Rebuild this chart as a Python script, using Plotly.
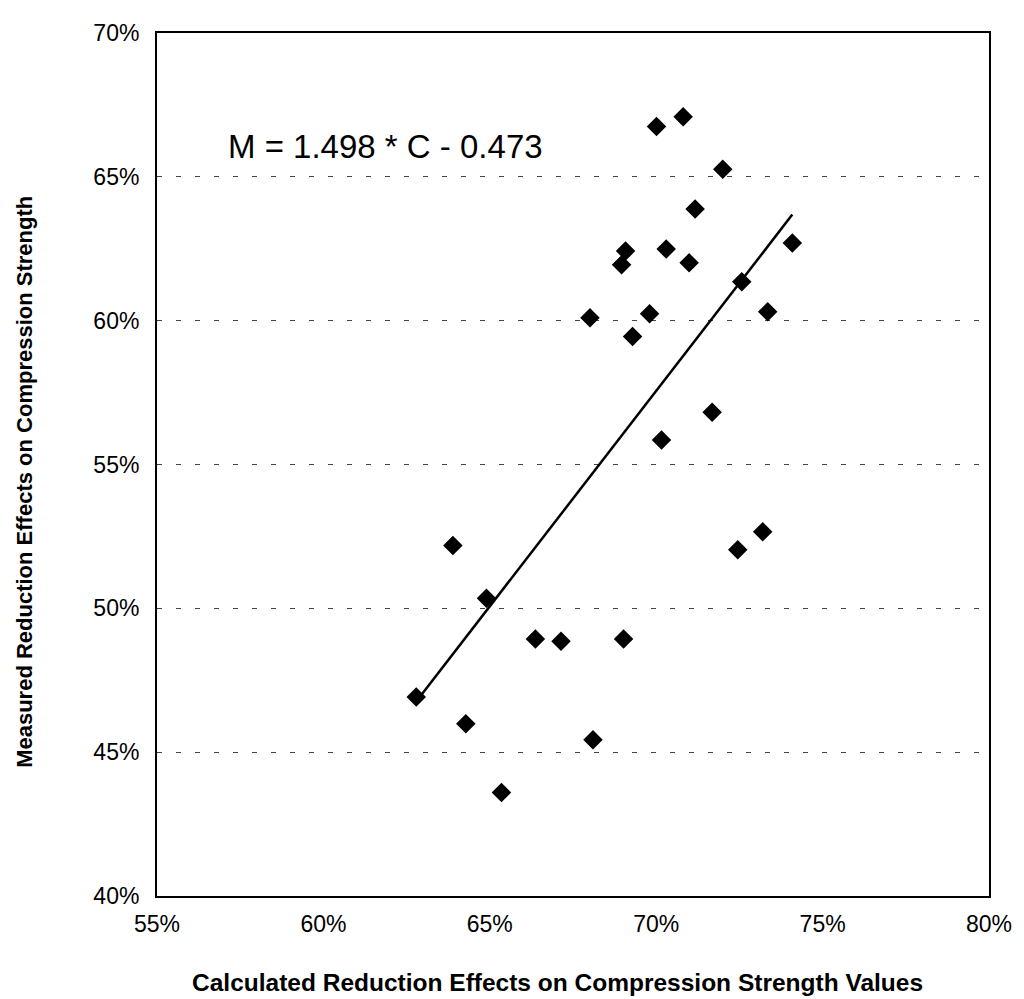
import plotly.graph_objects as go

# Calculated reduction effects (C) and measured reduction effects (M), as fractions
calculated = [0.6279, 0.6389, 0.6428, 0.6490, 0.6535, 0.6637, 0.6714, 0.6902,
              0.6810, 0.6801, 0.6896, 0.6908, 0.6929, 0.6980, 0.7001, 0.7081,
              0.7030, 0.7099, 0.7117, 0.7200, 0.7016, 0.7168, 0.7257, 0.7335,
              0.7409, 0.7245, 0.7320]
measured = [0.4692, 0.5218, 0.4599, 0.5035, 0.4360, 0.4893, 0.4886, 0.4893,
            0.4543, 0.6010, 0.6194, 0.6242, 0.5945, 0.6024, 0.6675, 0.6709,
            0.6249, 0.6201, 0.6388, 0.6526, 0.5585, 0.5682, 0.6135, 0.6031,
            0.6270, 0.5204, 0.5266]

fit_slope = 1.498
fit_intercept = -0.473
equation_text = "M = 1.498 * C - 0.473"

x_title = "Calculated Reduction Effects on Compression Strength Values"
y_title = "Measured Reduction Effects on Compression Strength"

x_range = [0.55, 0.80]
y_range = [0.40, 0.70]
tick_step = 0.05

fit_x = [min(calculated), max(calculated)]
fit_y = [fit_slope * c + fit_intercept for c in fit_x]

FONT = "Arial, 'Liberation Sans', sans-serif"

fig = go.Figure()
fig.add_trace(go.Scatter(
    x=fit_x, y=fit_y, mode="lines",
    line=dict(color="black", width=2.5),
    showlegend=False, hoverinfo="skip"))
fig.add_trace(go.Scatter(
    x=calculated, y=measured, mode="markers",
    marker=dict(symbol="diamond", size=15, color="black"),
    showlegend=False))

# page body has an 8px margin; figure is sized to fit the 1024x999 window
W, H = 1016, 991
L, R, T, B = 149, 29, 21, 103
pw, ph = W - L - R, H - T - B

def px_x(sx):  # screen x -> paper
    return (sx - 8 - L) / pw

def px_y(sy):  # screen y -> paper
    return (H - B - (sy - 8)) / ph

fig.update_layout(
    width=W, height=H,
    margin=dict(l=L, r=R, t=T, b=B),
    paper_bgcolor="white", plot_bgcolor="white",
    font=dict(family=FONT, color="black"),
    xaxis=dict(range=x_range, dtick=tick_step, tick0=0.55, tickformat=".0%",
               showgrid=False, zeroline=False, showline=True, linecolor="black",
               linewidth=2, mirror=True, ticks="", ticklabelstandoff=6,
               tickfont=dict(size=23, family=FONT, color="black")),
    yaxis=dict(range=y_range, dtick=tick_step, tick0=0.40, tickformat=".0%",
               showgrid=True, gridcolor="#444444", gridwidth=1, griddash="5px,14px",
               zeroline=False, showline=True, linecolor="black",
               linewidth=2, mirror=True, ticks="", ticklabelstandoff=11,
               tickfont=dict(size=23, family=FONT, color="black")),
    annotations=[
        dict(text=equation_text, xref="paper", yref="paper", x=px_x(387), y=px_y(143),
             xanchor="center", yanchor="middle", showarrow=False,
             font=dict(size=33, family=FONT, color="black")),
        dict(text="<b>" + x_title + "</b>", xref="paper", yref="paper",
             x=px_x(560), y=px_y(983),
             xanchor="center", yanchor="middle", showarrow=False,
             font=dict(size=24.5, family=FONT, color="black")),
        dict(text="<b>" + y_title + "</b>", xref="paper", yref="paper",
             x=px_x(24), y=px_y(480), textangle=-90,
             xanchor="center", yanchor="middle", showarrow=False,
             font=dict(size=22, family=FONT, color="black")),
    ],
)

fig.write_html("out.html")
